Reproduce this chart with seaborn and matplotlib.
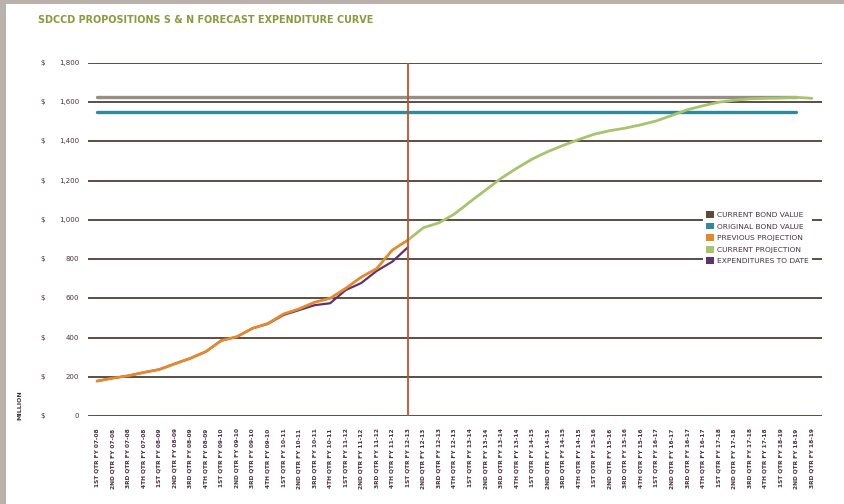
import matplotlib
matplotlib.use("Agg")
import matplotlib.pyplot as plt
import matplotlib.transforms as mtransforms
from matplotlib.patches import Patch, Rectangle
import numpy as np
import pandas as pd
import seaborn as sns

# Quarter labels, 1st QTR FY 07-08 through 3rd QTR FY 18-19
ORD = ["1ST", "2ND", "3RD", "4TH"]
quarters = []
for y in range(7, 19):
    fy = f"{y:02d}-{y + 1:02d}"
    for q in ORD:
        quarters.append(f"{q} QTR FY {fy}")
quarters = quarters[:47]

# Values in $ millions
previous_projection = [178, 193, 205, 222, 237, 266, 294, 328, 385, 404, 447,
                       472, 520, 546, 580, 600, 651, 708, 752, 846, 897]
expenditures_to_date = [178, 193, 205, 222, 237, 266, 294, 328, 385, 404, 447,
                        470, 515, 540, 565, 575, 642, 678, 740, 787, 860]
current_projection = [897, 960, 985, 1030, 1092, 1152, 1212, 1263, 1310, 1348,
                      1380, 1410, 1437, 1455, 1468, 1485, 1505, 1533, 1562,
                      1582, 1600, 1610, 1617, 1620, 1622, 1625, 1620]
current_bond_value = 1627
original_bond_value = 1550
today_index = 20
bond_end_index = 45

y_ticks = [0, 200, 400, 600, 800, 1000, 1200, 1400, 1600, 1800]

C_BOND = "#5c4a3a"
C_BOND_LINE = "#9a8d85"
C_ORIG = "#2f8a9e"
C_PREV = "#e4892c"
C_CURR = "#a6c46c"
C_EXP = "#62306f"
C_TEXT = "#4a2f3f"
C_GRID = "#4f4036"
C_TODAY = "#c4532b"

sns.set_theme(style="white")
plt.rcParams["font.family"] = ["DejaVu Sans"]

fig = plt.figure(figsize=(8.45, 5.04), dpi=100)
fig.patch.set_facecolor("white")
# page edge strips
fig.add_artist(Rectangle((0, 0), 6 / 845, 1, transform=fig.transFigure,
                         facecolor="#b9b1ac", edgecolor="none"))
fig.add_artist(Rectangle((0, 1 - 4 / 504), 1, 4 / 504, transform=fig.transFigure,
                         facecolor="#b9b1ac", edgecolor="none"))

ax = fig.add_axes([88 / 845, 1 - 416 / 504, (822 - 88) / 845, (416 - 63) / 504])
ax.set_facecolor("white")

# horizontal gridlines
for v in y_ticks:
    ax.axhline(v, color=C_GRID, lw=1.3, zorder=1)

idx = np.arange(len(quarters))
bond_x = idx[:bond_end_index + 1]
df_bond = pd.DataFrame({
    "x": np.concatenate([bond_x, bond_x]),
    "y": [current_bond_value] * len(bond_x) + [original_bond_value] * len(bond_x),
    "series": ["CURRENT BOND VALUE"] * len(bond_x) + ["ORIGINAL BOND VALUE"] * len(bond_x),
})
sns.lineplot(data=df_bond, x="x", y="y", hue="series",
             palette={"CURRENT BOND VALUE": C_BOND_LINE, "ORIGINAL BOND VALUE": C_ORIG},
             lw=2.4, ax=ax, legend=False, zorder=3)

df_prev = pd.DataFrame({"x": idx[:len(previous_projection)], "y": previous_projection})
df_exp = pd.DataFrame({"x": idx[:len(expenditures_to_date)], "y": expenditures_to_date})
df_curr = pd.DataFrame({"x": idx[today_index:today_index + len(current_projection)],
                        "y": current_projection})

sns.lineplot(data=df_curr, x="x", y="y", color=C_CURR, lw=2.0, ax=ax, zorder=4)
sns.lineplot(data=df_exp, x="x", y="y", color=C_EXP, lw=1.6, ax=ax, zorder=4)
sns.lineplot(data=df_prev, x="x", y="y", color=C_PREV, lw=2.0, ax=ax, zorder=5)

ax.axvline(today_index, color=C_TODAY, lw=1.3, zorder=6)

ax.set_xlim(-0.58, 46.65)
ax.set_ylim(0, 1800)
for s in ax.spines.values():
    s.set_visible(False)

ax.set_xticks(idx)
ax.set_xticklabels(quarters, rotation=90, fontsize=4.2, color=C_TEXT,
                   fontweight="bold", va="top")
ax.tick_params(axis="x", length=0, pad=9)
ax.set_yticks([])
ax.set_xlabel("")
ax.set_ylabel("")

# value labels with dollar signs
trans = mtransforms.blended_transform_factory(fig.transFigure, ax.transData)
for v in y_ticks:
    fig.text(40 / 845, v, "$", transform=trans, fontsize=5, color=C_TEXT,
             ha="left", va="center")
    fig.text(79 / 845, v, f"{v:,}", transform=trans, fontsize=5, color=C_TEXT,
             ha="right", va="center")

fig.text(20 / 845, 1 - 405 / 504, "MILLION", rotation=90, fontsize=4.5,
         color=C_TEXT, fontweight="bold", ha="center", va="center")

fig.text(38 / 845, 1 - 20 / 504,
         "SDCCD PROPOSITIONS S & N FORECAST EXPENDITURE CURVE",
         fontsize=6.9, color="#8a9a3c", fontweight="bold", ha="left", va="center")

handles = [
    Patch(facecolor=C_BOND, edgecolor="none", label="CURRENT BOND VALUE"),
    Patch(facecolor=C_ORIG, edgecolor="none", label="ORIGINAL BOND VALUE"),
    Patch(facecolor=C_PREV, edgecolor="none", label="PREVIOUS PROJECTION"),
    Patch(facecolor=C_CURR, edgecolor="none", label="CURRENT PROJECTION"),
    Patch(facecolor=C_EXP, edgecolor="none", label="EXPENDITURES TO DATE"),
]
leg = ax.legend(handles=handles, loc="upper left", bbox_to_anchor=(0.838, 0.59),
                fontsize=5.4, frameon=True, facecolor="white", edgecolor="none",
                framealpha=1, handlelength=1.0, handleheight=1.0,
                handletextpad=0.4, labelspacing=0.62, borderpad=0.45,
                borderaxespad=0)
for t in leg.get_texts():
    t.set_color(C_TEXT)
leg.set_zorder(10)

fig.savefig("out.png", dpi=100, facecolor="white")
